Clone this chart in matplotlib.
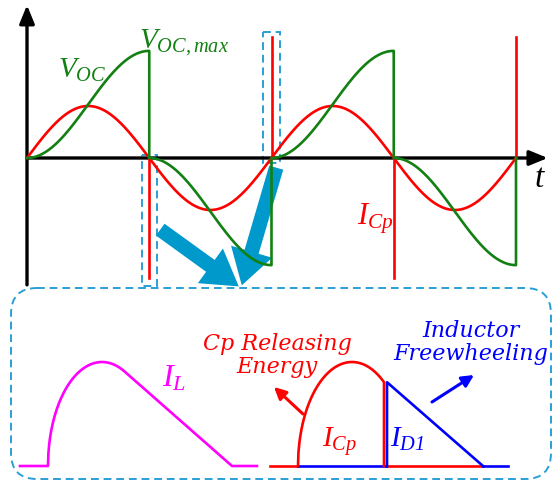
import numpy as np
import matplotlib.pyplot as plt
from matplotlib.patches import FancyArrowPatch, FancyBboxPatch, Rectangle

plt.rcParams['mathtext.fontset'] = 'custom'
plt.rcParams['mathtext.it'] = 'Liberation Serif:italic'
plt.rcParams['mathtext.rm'] = 'Liberation Serif:italic'
plt.rcParams['font.family'] = 'Liberation Serif'

W, H = 554, 483

# upper plot: time in half-periods, amplitude normalised to the I_Cp peak
half_periods = [0, 1, 2, 3]
voc_sign = [1, -1, 1, -1]
voc_max = 2.06
icp_amp = 1.0
spike_t = [1, 2, 3, 4]
spike_h = [-2.31, 2.33, -2.31, 2.33]

# lower plot: I_L pulse and the split of I_Cp / I_D1 (time in 10-px units, peak = 1)
il_t = [2.0, 4.8, 10.2, 23.2, 25.7]        # start, rise, peak, zero, end
cp_t = [27.0, 29.8, 35.2, 38.4, 48.3, 50.8]  # start, rise, peak, switch, zero, end
pulse_peak = 1.0

RED = '#ff0000'
GREEN = '#128012'
SKY = '#0099cc'
DASH = '#2a9fd6'

fig = plt.figure(figsize=(W / 100, H / 100), dpi=100)


def layer(x0, xscale, y0, yscale):
    # full-figure axes where pixel (x0, y0) is the origin
    ax = fig.add_axes([0, 0, 1, 1])
    ax.set_xlim(-x0 / xscale, (W - x0) / xscale)
    ax.set_ylim(-(H - y0) / yscale, y0 / yscale)
    ax.axis('off')
    ax.patch.set_alpha(0)
    return ax


deco = fig.add_axes([0, 0, 1, 1])
deco.set_xlim(0, W)
deco.set_ylim(H, 0)
deco.axis('off')

top = layer(27, 122.25, 158, 52)
bot = layer(0, 10, 466, 104)

# axes of the upper plot
top.annotate('', xy=(0, 2.94), xytext=(0, -2.44),
             arrowprops=dict(arrowstyle='-|>,head_length=1.1,head_width=0.45', lw=2.4,
                             color='black', shrinkA=0, shrinkB=0))
top.annotate('', xy=(4.26, 0), xytext=(0, 0),
             arrowprops=dict(arrowstyle='-|>,head_length=1.1,head_width=0.45', lw=2.4,
                             color='black', shrinkA=0, shrinkB=0))

# I_Cp: sine with reverse spikes at each zero crossing
t = np.linspace(0, 4, 800)
top.plot(t, icp_amp * np.sin(np.pi * t), color=RED, lw=1.9, zorder=3)
for ts, hs in zip(spike_t, spike_h):
    top.plot([ts, ts], [0, hs], color=RED, lw=1.9, zorder=3)

# V_OC: rises from zero each half period, then snaps back
vx, vy = [], []
for k, s in zip(half_periods, voc_sign):
    u = np.linspace(0, 1, 200)
    vx += list(k + u) + [k + 1]
    vy += list(s * voc_max * (1 - np.cos(np.pi * u)) / 2) + [0]
top.plot(vx, vy, color=GREEN, lw=1.9, zorder=4)

top.text(0.25, 1.55, r'$V_{OC}$', color=GREEN, fontsize=21, ha='left', va='baseline')
top.text(0.92, 2.11, r'$V_{OC,max}$', color=GREEN, fontsize=21, ha='left', va='baseline')
top.text(4.15, -0.55, r'$t$', color='black', fontsize=24, ha='left', va='baseline')
top.text(2.7, -1.27, r'$I_{Cp}$', color=RED, fontsize=22, ha='left', va='baseline')

# zoom markers around the spikes
deco.add_patch(Rectangle((142, 155), 15, 131, fill=False, ec=DASH, lw=1.4, ls=(0, (4, 2.5))))
deco.add_patch(Rectangle((263, 32), 17, 131, fill=False, ec=DASH, lw=1.4, ls=(0, (4, 2.5))))
for start in [(158, 228), (277, 165)]:
    deco.add_patch(FancyArrowPatch(start, (241, 288),
                                   arrowstyle='simple,head_length=1.8,head_width=2.2,tail_width=0.75',
                                   mutation_scale=14, color=SKY, lw=0, zorder=5))
deco.add_patch(FancyBboxPatch((11, 288), 540, 191, boxstyle='round,pad=0,rounding_size=26',
                              fill=False, ec=DASH, lw=1.4, ls=(0, (4, 2.5))))


def arc(t0, tp, x_end, n=200):
    # quarter-ellipse rise continuing past the peak up to x_end
    w = tp - t0
    x = np.linspace(t0, x_end, n)
    return x, pulse_peak * np.sqrt(np.clip(1 - ((x - tp) / w) ** 2, 0, None))


# I_L: elliptical rise, then a straight tangent fall to zero
w = il_t[2] - il_t[1]
x_tan = il_t[2] + w ** 2 / (il_t[3] - il_t[2])
ax_, ay_ = arc(il_t[1], il_t[2], x_tan)
bot.plot([il_t[0], il_t[1]] + list(ax_) + [il_t[3], il_t[4]],
         [0, 0] + list(ay_) + [0, 0], color='#ff00ff', lw=1.9)
bot.text(16.2, 0.76, r'$I_L$', color='#ff00ff', fontsize=23, ha='left', va='baseline')

# I_Cp until the switch, then I_D1 freewheels down
cx, cy = arc(cp_t[1], cp_t[2], cp_t[3])
bot.plot([cp_t[0], cp_t[1]], [0, 0], color=RED, lw=1.9)
bot.plot([cp_t[3] + 0.15, cp_t[4]], [0, 0], color=RED, lw=1.9)
bot.plot([cp_t[1], cp_t[3] + 0.15], [0, 0], color='#0000ff', lw=1.9)
bot.plot([cp_t[4], cp_t[5]], [0, 0], color='#0000ff', lw=1.9)
bot.plot(list(cx) + [cp_t[3]], list(cy) + [0], color=RED, lw=1.9)
bot.plot([cp_t[3] + 0.3, cp_t[3] + 0.3, cp_t[4]], [0, cy[-1], 0], color='#0000ff', lw=1.9)
bot.text(32.2, 0.18, r'$I_{Cp}$', color=RED, fontsize=21, ha='left', va='baseline')
bot.text(39.0, 0.18, r'$I_{D1}$', color='#0000ff', fontsize=21, ha='left', va='baseline')

deco.text(277, 373, 'Cp Releasing\nEnergy', color=RED, fontsize=16, style='italic',
          family='DejaVu Serif', ha='center', va='baseline', linespacing=1.05)
deco.text(471, 360, 'Inductor\nFreewheeling', color='#0000ff', fontsize=16, style='italic',
          family='DejaVu Serif', ha='center', va='baseline', linespacing=1.05)
deco.annotate('', xy=(274, 387), xytext=(303, 414),
              arrowprops=dict(arrowstyle='-|>,head_length=0.7,head_width=0.35', lw=2.2,
                              color=RED, shrinkA=0, shrinkB=0))
deco.annotate('', xy=(474, 375), xytext=(432, 402),
              arrowprops=dict(arrowstyle='-|>,head_length=0.7,head_width=0.35', lw=2.2,
                              color='#0000ff', shrinkA=0, shrinkB=0))

fig.savefig('out.png', dpi=100)
